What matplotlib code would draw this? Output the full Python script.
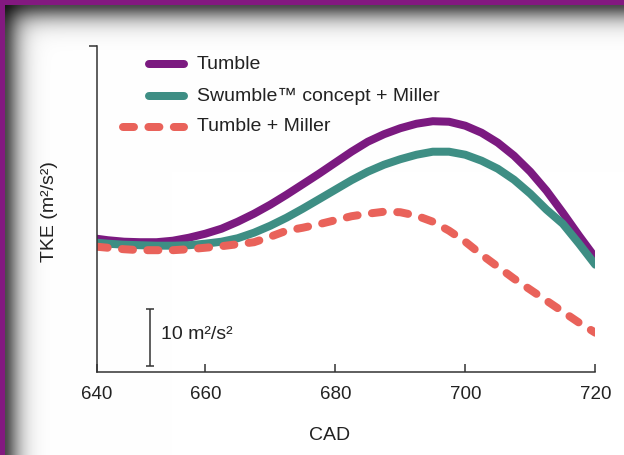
import numpy as np
import matplotlib
matplotlib.use('Agg')
import matplotlib.pyplot as plt

plt.rcParams['font.family'] = ['Liberation Sans', 'DejaVu Sans']

# crank angle (deg) and TKE (offset is arbitrary, axis is unlabelled)
cad = [643.3, 645, 647.5, 650, 652.5, 655, 657.5, 660, 662.5, 665, 667.5, 670, 672.5, 675, 677.5,
       680, 682.5, 685, 687.5, 690, 692.5, 695, 697.5, 700, 702.5, 705, 707.5, 710, 712.5, 715,
       717.5, 720]
tumble = [23.33, 23.07, 22.81, 22.72, 22.72, 22.98, 23.51, 24.21, 25.09, 26.32, 27.72, 29.30,
          31.05, 32.89, 34.74, 36.67, 38.60, 40.35, 41.67, 42.72, 43.51, 43.95, 43.86, 43.16,
          41.93, 40.18, 37.89, 35.09, 31.75, 27.89, 23.86, 20.00]
swumble = [22.63, 22.46, 22.28, 22.19, 22.11, 22.11, 22.19, 22.46, 22.81, 23.42, 24.39, 25.61,
           27.02, 28.60, 30.26, 31.93, 33.60, 35.09, 36.32, 37.28, 38.07, 38.60, 38.60, 38.07,
           37.02, 35.61, 33.68, 31.23, 28.42, 25.96, 22.46, 18.77]
tumble_miller = [21.93, 21.75, 21.49, 21.32, 21.32, 21.32, 21.49, 21.75, 22.02, 22.37, 22.72,
                 23.68, 24.74, 25.26, 25.88, 26.58, 27.28, 27.72, 28.07, 27.98, 27.37, 26.32,
                 24.74, 22.81, 20.53, 18.42, 16.32, 14.39, 12.46, 10.53, 8.60, 6.84]

labels = ['Tumble', 'Swumble\u2122 concept + Miller', 'Tumble + Miller']
colors = ['#7b1a80', '#3e8e84', '#e9625a']
xtick_pos = [643.3, 660, 680, 700, 720]
xtick_lab = ['640', '660', '680', '700', '720']
scale_bar = 10  # m2/s2

W, H = 624, 455
fig = plt.figure(figsize=(W / 100, H / 100), dpi=100)

# purple frame with inner shadow
bg = fig.add_axes([0, 0, 1, 1], zorder=-5)
yy, xx = np.mgrid[0:H, 0:W]
shade = lambda d: 1 - 0.7 * np.exp(-(np.clip(d, 0, None) / 15.0) ** 1.5)
g = shade(yy - 5) * shade(xx - 5)
img = np.dstack([g, g, g])
purple = np.array([0x83, 0x19, 0x80]) / 255
img[:5, :, :] = purple
img[:, :5, :] = purple
bg.imshow(img, aspect='auto', interpolation='nearest')
bg.axis('off')

ax = fig.add_axes([96.7 / W, 83.3 / H, 498.6 / W, 326 / H])
ax.set_facecolor('none')

lw = 5.76
on, off = 7.9, 10.4
ax.plot(cad, tumble, color=colors[0], lw=lw, solid_capstyle='round', solid_joinstyle='round')
ax.plot(cad, swumble, color=colors[1], lw=lw, solid_capstyle='round', solid_joinstyle='round')
ax.plot(cad, tumble_miller, color=colors[2], lw=lw, linestyle=(0, (on / lw, off / lw)),
        dash_capstyle='round', dash_joinstyle='round')

ax.set_xlim(643.3, 720)
ax.set_ylim(0, 57.2)

for s in ['top', 'right']:
    ax.spines[s].set_visible(False)
for s in ['left', 'bottom']:
    ax.spines[s].set_color('#333333')
    ax.spines[s].set_linewidth(1.1)

ax.set_xticks(xtick_pos)
ax.set_xticklabels(xtick_lab)
ax.tick_params(axis='x', direction='in', length=5.8, width=1.1, color='#333333',
               labelsize=13.5, labelcolor='#222222', pad=10.2)
ax.set_yticks([57.2])
ax.set_yticklabels([])
ax.tick_params(axis='y', direction='out', length=5.8, width=1.1, color='#333333')

ax.set_xlabel('CAD', fontsize=14, color='#222222')
ax.xaxis.set_label_coords(0.468, -0.17)
ax.set_ylabel('TKE (m\u00b2/s\u00b2)', fontsize=14, color='#222222')
ax.yaxis.set_label_coords(-0.077, 0.49)

# scale bar
ax.errorbar([651.5], [1 + scale_bar / 2], yerr=scale_bar / 2, color='#333333', elinewidth=1.1,
            capsize=2.9, capthick=1.1, fmt='none')
ax.text(653.2, 6.5, '10 m\u00b2/s\u00b2', fontsize=14, color='#222222', va='center', ha='left')

# legend drawn by hand (dashed handle is longer than the solid ones)
tr = ax.transAxes
fx = lambda px: (px - 96.7) / 498.6
fy = lambda py: (372 - py) / 326
ax.plot([fx(149), fx(184)], [fy(64.3)] * 2, transform=tr, color=colors[0], lw=lw,
        solid_capstyle='round', clip_on=False)
ax.plot([fx(149), fx(184)], [fy(96.7)] * 2, transform=tr, color=colors[1], lw=lw,
        solid_capstyle='round', clip_on=False)
ax.plot([fx(123), fx(184)], [fy(127)] * 2, transform=tr, color=colors[2], lw=lw,
        linestyle=(0, (on / lw, off / lw)), dash_capstyle='round', clip_on=False)
for lab, py in zip(labels, [64.3, 96.7, 127]):
    ax.text(fx(197), fy(py), lab, transform=tr, fontsize=14, color='#222222', va='center', ha='left')

fig.savefig('out.png', dpi=100)
